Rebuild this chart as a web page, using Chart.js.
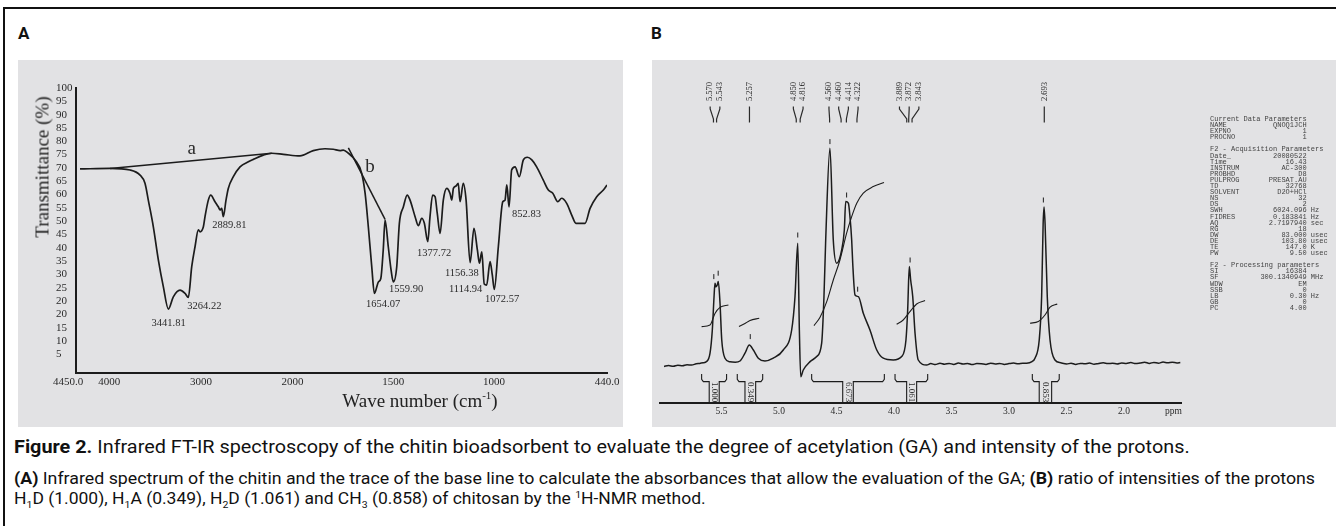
<!DOCTYPE html>
<html>
<head>
<meta charset="utf-8">
<script src="https://cdn.jsdelivr.net/npm/chart.js@4.4.0/dist/chart.umd.min.js"></script>
<style>
  body { margin: 0; width: 1336px; height: 526px; overflow: hidden; position: relative; background: #fff; font-family: Roboto, 'Noto Sans', sans-serif; }
  .frame { position: absolute; left: 3px; top: 7px; width: 1400px; height: 600px; border: 2px solid #111; }
  .tag { position: absolute; top: 23px; font-size: 17px; font-weight: 700; line-height: 20px; color: #111; }
  .panel { position: absolute; top: 60px; height: 367px; background: #e2e2e4; }
  canvas { position: absolute; top: 60px; }
  .serif { position: absolute; font-family: 'Liberation Serif', serif; color: #222; white-space: nowrap; line-height: 1; }
  #params { position: absolute; left: 1210px; top: 116px; margin: 0; font-family: 'Liberation Mono', monospace; font-size: 7px; line-height: 6.1px; color: #444; white-space: pre; }
  .cap { position: absolute; left: 14px; white-space: nowrap; color: #111; line-height: 20px; transform-origin: left center; }
  .cap sub, .cap sup { font-size: 0.6em; line-height: 0; }
</style>
</head>
<body>
<div class="frame"></div>
<div class="tag" style="left:18px">A</div>
<div class="tag" style="left:651px">B</div>

<div class="panel" style="left:18px;width:605px"></div>
<div class="panel" style="left:652px;width:684px"></div>

<canvas id="irChart" width="605" height="367" style="left:18px"></canvas>
<canvas id="nmrChart" width="684" height="367" style="left:652px"></canvas>

<div class="serif" style="left:42px;top:167px;font-size:19px;transform:translate(-50%,-50%) rotate(-90deg)">Transmittance (%)</div>
<div class="serif" style="left:420px;top:400px;font-size:19px;transform:translate(-50%,-50%)">Wave number (cm<sup style="font-size:11px">-1</sup>)</div>

<pre id="params"></pre>

<div class="cap" id="cap1" style="top:437px;font-size:18px"><b>Figure 2.</b> Infrared FT-IR spectroscopy of the chitin bioadsorbent to evaluate the degree of acetylation (GA) and intensity of the protons.</div>
<div class="cap" id="cap2" style="top:469px;font-size:16px"><b>(A)</b> Infrared spectrum of the chitin and the trace of the base line to calculate the absorbances that allow the evaluation of the GA; <b>(B)</b> ratio of intensities of the protons</div>
<div class="cap" id="cap3" style="top:489px;font-size:16px">H<sub>1</sub>D (1.000), H<sub>1</sub>A (0.349), H<sub>2</sub>D (1.061) and CH<sub>3</sub> (0.858) of chitosan by the <sup>1</sup>H-NMR method.</div>

<script>
// ---------- Panel A: FT-IR spectrum (wavenumber cm-1, transmittance %)
const irWave = [4319, 3992, 3773, 3664, 3610, 3574, 3519, 3464, 3410, 3355, 3301, 3228, 3173, 3137, 3100, 3064, 3028, 3009, 2973, 2955,
  2919, 2893, 2846, 2810, 2791, 2773, 2755, 2726, 2701, 2646, 2573, 2482, 2428, 2319, 2227, 2100, 1963, 1897, 1839, 1798,
  1764, 1748, 1723, 1690, 1657, 1640, 1624, 1607, 1594, 1574, 1562, 1550, 1541, 1525, 1511, 1500, 1483, 1470, 1450, 1431,
  1417, 1392, 1376, 1359, 1346, 1329, 1318, 1305, 1293, 1282, 1268, 1252, 1235, 1219, 1210, 1202, 1189, 1178, 1169, 1153,
  1139, 1119, 1100, 1083, 1073, 1061, 1049, 1037, 1020, 1009, 999, 979, 957, 946, 937, 926, 913, 896, 875, 855,
  835, 813, 789, 756, 731, 709, 684, 665, 640, 615, 594, 549, 524, 491, 458, 440];
const irTrans = [69.6, 69.8, 69.2, 67.3, 64.2, 57.9, 47.9, 35.4, 25.4, 17.0, 21.6, 24.1, 22.9, 21.4, 32.9, 40.4, 46.7, 46.0, 47.9, 51.7,
  57.9, 59.8, 57.3, 55.4, 54.2, 54.8, 51.7, 57.9, 62.3, 66.7, 70.4, 72.3, 73.2, 74.8, 75.5, 75.1, 74.5, 76.5, 77.2, 77.0,
  76.5, 76.7, 75.5, 73.0, 68.0, 60.5, 47.9, 32.9, 22.9, 27.2, 28.5, 39.2, 50.4, 40.4, 31.6, 27.2, 32.9, 49.2, 55.4, 59.8,
  57.9, 51.7, 48.3, 51.1, 49.2, 42.3, 51.7, 59.8, 59.2, 52.9, 45.4, 57.9, 62.3, 60.5, 57.9, 62.3, 63.2, 64.2, 57.3, 64.2,
  57.9, 34.4, 47.3, 39.2, 34.2, 38.5, 26.4, 26.0, 34.8, 29.8, 24.4, 40.4, 57.3, 57.9, 63.6, 55.4, 69.2, 70.4, 66.7, 73.0,
  74.0, 73.0, 70.4, 65.4, 61.7, 60.5, 57.3, 58.6, 56.7, 52.3, 49.2, 49.2, 54.8, 59.2, 61.7, 63.6];

// base lines a and b
const baseAWave = [3992, 2227];
const baseATrans = [69.8, 75.5];
const baseBWave = [1723, 1541];
const baseBTrans = [77.5, 50.7];

const irTickValues = [4450, 4000, 3000, 2000, 1500, 1000, 440];
const irTickLabels = ['4450.0', '4000', '3000', '2000', '1500', '1000', '440.0'];
const yTickValues = [100, 95, 90, 85, 80, 75, 70, 65, 60, 55, 50, 45, 40, 35, 30, 25, 20, 15, 10, 5, 0];
const yTickLabels = ['100', '95', '90', '85', '80', '75', '70', '65', '60', '55', '50', '45', '40', '35', '30', '25', '20', '20', '15', '10', '5'];

// peak annotations (text anchored at its left edge)
const irPeakText = ['3441.81', '3264.22', '2889.81', '1654.07', '1559.90', '1377.72', '1156.38', '1114.94', '1072.57', '852.83'];
const irPeakLabelWave = [3539, 3148, 2875, 1635, 1521, 1382, 1244, 1224, 1045, 911];
const irPeakLabelTrans = [11.6, 18.1, 48.3, 18.8, 24.5, 38.0, 30.5, 24.5, 20.8, 52.7];
const irLineNames = ['a', 'b'];
const irLineNameWave = [3100, 1616];
const irLineNameTrans = [77.0, 70.4];

// ---------- Panel B: 1H-NMR spectrum (ppm, intensity)
const nmrPpm = [6.00, 5.96, 5.92, 5.88, 5.84, 5.80, 5.76, 5.72, 5.69, 5.66, 5.63, 5.60, 5.58, 5.565, 5.557, 5.548, 5.537, 5.528, 5.513, 5.498,
  5.47, 5.426, 5.38, 5.339, 5.296, 5.258, 5.223, 5.18, 5.122, 5.05, 4.963, 4.89, 4.861, 4.837, 4.823, 4.811, 4.789, 4.73, 4.672, 4.629,
  4.609, 4.594, 4.557, 4.528, 4.498, 4.455, 4.432, 4.42, 4.397, 4.383, 4.368, 4.359, 4.339, 4.31, 4.267, 4.209, 4.15, 4.093, 4.006, 3.933,
  3.896, 3.881, 3.867, 3.855, 3.837, 3.817, 3.789, 3.716, 3.68, 3.64, 3.60, 3.56, 3.52, 3.48, 3.44, 3.40, 3.36, 3.32, 3.28, 3.24,
  3.20, 3.16, 3.12, 3.08, 3.04, 3.00, 2.96, 2.92, 2.88, 2.846, 2.80, 2.774, 2.737, 2.716, 2.703, 2.695, 2.686, 2.667, 2.643, 2.600,
  2.55, 2.498, 2.46, 2.42, 2.38, 2.34, 2.30, 2.26, 2.22, 2.18, 2.14, 2.10, 2.06, 2.02, 1.98, 1.94, 1.90, 1.86, 1.82, 1.78,
  1.74, 1.70, 1.66, 1.62, 1.58, 1.54, 1.51];
const nmrInt = [-1.2, -0.8, -1.1, -0.6, -0.9, -0.4, -0.5, 0.1, 0.3, 0.6, 1.2, 5.4, 17, 33.6, 40.4, 38.6, 39.5, 41.2, 30.4, 12,
  2.9, 1.1, 0.9, 1.5, 5.4, 9.5, 7, 2.9, 1.5, 2.9, 7, 17, 33.6, 60.4, 17, -6.4, -3, 1.2, 3.7, 10.4,
  33.6, 62, 107.9, 62, 50.4, 57, 67, 81.2, 80.4, 73.7, 62, 50.4, 34.5, 33.7, 25.4, 17, 7, 2.9, 2, 3.7,
  12, 27, 48.7, 42, 33.7, 15.4, 2, -0.5, 0.2, -0.3, 0.4, -0.1, 0.3, -0.2, 0.5, 0.0, 0.3, -0.3, 0.2, 0.1,
  -0.2, 0.4, 0.0, 0.3, -0.2, 0.2, 0.5, 0.1, 0.4, 0.4, 1.2, 2.9, 12, 33.7, 70, 78.5, 70, 33.7, 12, 2,
  0.6, 0.0, 0.4, -0.2, 0.3, 0.1, 0.5, -0.1, 0.3, 0.6, 0.2, 0.4, 0.0, 0.5, 0.3, 0.7, 0.2, 0.5, 0.9, 0.3,
  0.8, 0.4, 1.0, 0.6, 0.9, 0.5, 0.8];

const nmrPeakList = [5.570, 5.543, 5.257, 4.850, 4.816, 4.560, 4.460, 4.414, 4.322, 3.889, 3.872, 3.843, 2.693];
const nmrMarkPpm = [5.567, 5.529, 5.250, 4.837, 4.557, 4.412, 4.316, 3.860, 2.701];
const nmrMarkInt = [43.7, 45.4, 13.7, 64.5, 111.2, 84.5, 37.4, 52, 82];

// integral curves
const integralPpm = [
  [5.673, 5.600, 5.557, 5.513, 5.440],
  [5.348, 5.296, 5.252, 5.172],
  [4.696, 4.643, 4.585, 4.528, 4.470, 4.412, 4.368, 4.324, 4.267, 4.180, 4.087],
  [3.977, 3.920, 3.861, 3.803, 3.730],
  [2.817, 2.745, 2.687, 2.643, 2.580]
];
const integralVal = [
  [18.7, 19.5, 25.3, 28.3, 29.5],
  [18.7, 20.3, 21.7, 22.9],
  [19.2, 23.4, 31.2, 42, 52, 65.4, 73.7, 80.4, 85.4, 88.7, 90.7],
  [19.9, 22, 26.2, 30, 31.7],
  [20.4, 21.2, 24.5, 28.4, 30]
];

// integration ranges and values
const intOuterLeft = [5.673, 5.363, 4.716, 3.991, 2.797];
const intInnerLeft = [5.607, 5.296, 4.446, 3.890, 2.737];
const intInnerRight = [5.520, 5.203, 4.354, 3.803, 2.629];
const intOuterRight = [5.456, 5.142, 4.084, 3.707, 2.563];
const intValues = ['1.000', '0.349', '6.673', '1.061', '0.853'];

const nmrTickValues = [5.5, 5.0, 4.5, 4.0, 3.5, 3.0, 2.5, 2.0, 1.57];
const nmrTickLabels = ['5.5', '5.0', '4.5', '4.0', '3.5', '3.0', '2.5', '2.0', 'ppm'];

// acquisition parameter listing
const paramRows = [
  ['Current Data Parameters'], ['NAME', 'QNOQ1JCH'], ['EXPNO', '1'], ['PROCNO', '1'], [''],
  ['F2 - Acquisition Parameters'], ['Date_', '20080522'], ['Time', '16.43'], ['INSTRUM', 'AC-300'], ['PROBHD', 'D8'],
  ['PULPROG', 'PRESAT.AU'], ['TD', '32768'], ['SOLVENT', 'D2O+HCl'], ['NS', '32'], ['DS', '2'],
  ['SWH', '6024.096', 'Hz'], ['FIDRES', '0.183841', 'Hz'], ['AQ', '2.7197940', 'sec'], ['RG', '18'],
  ['DW', '83.000', 'usec'], ['DE', '103.80', 'usec'], ['TE', '147.0', 'K'], ['PW', '9.50', 'usec'], [''],
  ['F2 - Processing parameters'], ['SI', '16384'], ['SF', '300.1340949', 'MHz'], ['WDW', 'EM'], ['SSB', '0'],
  ['LB', '0.30', 'Hz'], ['GB', '0'], ['PC', '4.00']
];

document.getElementById('params').textContent = paramRows.map(r => {
  if (r.length === 1) return r[0];
  const left = r[0];
  const val = r[1];
  let line = left + ' '.repeat(Math.max(1, 23 - left.length - val.length)) + val;
  if (r[2]) line += ' ' + r[2];
  return line;
}).join('\n');

// caption lines fitted to the width of the original
[['cap1', 1176], ['cap2', 1301], ['cap3', 692]].forEach(([id, w]) => {
  const el = document.getElementById(id);
  el.style.transform = `scaleX(${w / el.scrollWidth})`;
});

const pts = (xs, ys) => xs.map((x, i) => ({ x, y: ys[i] }));
const INK = '#1c1c1c';
const serif = size => ({ family: 'Liberation Serif', size });

// wavenumber axis expanded below 2000 cm-1 like the spectrometer output
class SplitScale extends Chart.LinearScale {
  static id = 'split';
  static defaults = {};
  warp(v) {
    const b = 2000, f = 2.2;
    return v >= b ? v - b : (v - b) * f;
  }
  getPixelForValue(value) {
    if (value === null || value === undefined) return NaN;
    const a = this.warp(this.min), b = this.warp(this.max);
    return this.getPixelForDecimal((this.warp(value) - a) / (b - a));
  }
  getValueForPixel(pixel) {
    const a = this.warp(this.min), b = this.warp(this.max);
    const u = a + this.getDecimalForPixel(pixel) * (b - a);
    return u >= 0 ? u + 2000 : u / 2.2 + 2000;
  }
}
Chart.register(SplitScale);

const irLabelPlugin = {
  id: 'irLabels',
  afterDatasetsDraw(chart) {
    const { ctx, scales: { x, y } } = chart;
    ctx.save();
    ctx.fillStyle = '#2a2a2a';
    ctx.textBaseline = 'middle';
    ctx.textAlign = 'left';
    ctx.font = '10.5px "Liberation Serif"';
    irPeakText.forEach((t, i) => {
      ctx.fillText(t, x.getPixelForValue(irPeakLabelWave[i]), y.getPixelForValue(irPeakLabelTrans[i]));
    });
    ctx.textAlign = 'center';
    ctx.font = '19px "Liberation Serif"';
    irLineNames.forEach((t, i) => {
      ctx.fillText(t, x.getPixelForValue(irLineNameWave[i]), y.getPixelForValue(irLineNameTrans[i]));
    });
    ctx.restore();
  }
};

new Chart(document.getElementById('irChart'), {
  type: 'line',
  data: {
    datasets: [
      { data: pts(irWave, irTrans), borderColor: INK, borderWidth: 1.7, pointRadius: 0, cubicInterpolationMode: 'monotone' },
      { data: pts(baseAWave, baseATrans), borderColor: INK, borderWidth: 1.5, pointRadius: 0 },
      { data: pts(baseBWave, baseBTrans), borderColor: INK, borderWidth: 1.5, pointRadius: 0 }
    ]
  },
  options: {
    responsive: false,
    animation: false,
    devicePixelRatio: 1,
    events: [],
    layout: { padding: { left: 38, right: 16, top: 28, bottom: 0 } },
    plugins: { legend: { display: false }, tooltip: { enabled: false } },
    scales: {
      x: {
        type: 'split',
        min: 440,
        max: 4363,
        reverse: true,
        grid: { display: false, drawTicks: false },
        border: { color: INK, width: 2 },
        afterBuildTicks: s => { s.ticks = irTickValues.map(v => ({ value: v })); },
        afterFit: s => { s.height = 54; s.paddingLeft = 0; s.paddingRight = 0; },
        ticks: { autoSkip: false, maxRotation: 0, padding: 3, color: '#2a2a2a', font: serif(11), callback: (v, i) => irTickLabels[i] }
      },
      y: {
        min: -7,
        max: 100,
        grid: { display: false, drawTicks: false },
        border: { color: INK, width: 2 },
        afterBuildTicks: s => { s.ticks = yTickValues.map(v => ({ value: v })); },
        afterFit: s => { s.width = 20; s.paddingTop = 0; s.paddingBottom = 0; },
        ticks: { autoSkip: false, crossAlign: 'far', padding: 2, color: '#2a2a2a', font: serif(11), callback: (v, i) => yTickLabels[i] }
      }
    }
  },
  plugins: [irLabelPlugin]
});

// spread the peak labels so they do not overlap
function spreadLabels(pos, gap) {
  let groups = pos.map(p => ({ items: [p], start: p }));
  let merged = true;
  while (merged) {
    merged = false;
    for (let i = 0; i < groups.length - 1; i++) {
      const a = groups[i], b = groups[i + 1];
      const aEnd = a.start + (a.items.length - 1) * gap;
      if (b.start - aEnd < gap) {
        const items = a.items.concat(b.items);
        const mean = items.reduce((s, v) => s + v, 0) / items.length;
        groups.splice(i, 2, { items, start: mean - (items.length - 1) * gap / 2 });
        merged = true;
        break;
      }
    }
  }
  return groups.flatMap(g => g.items.map((_, k) => g.start + k * gap));
}

const nmrTextPlugin = {
  id: 'nmrText',
  afterDatasetsDraw(chart) {
    const { ctx, scales: { x, y } } = chart;
    ctx.save();
    ctx.fillStyle = '#2a2a2a';
    ctx.strokeStyle = '#2a2a2a';
    ctx.lineWidth = 1.2;

    // peak list on top
    const peakX = nmrPeakList.map(p => x.getPixelForValue(p));
    const labelX = spreadLabels(peakX, 9.7);
    ctx.font = '8.5px "Liberation Serif"';
    ctx.textBaseline = 'middle';
    ctx.textAlign = 'left';
    nmrPeakList.forEach((p, i) => {
      ctx.save();
      ctx.translate(labelX[i], 41);
      ctx.rotate(-Math.PI / 2);
      ctx.fillText(p.toFixed(3), 0, 0);
      ctx.restore();
      ctx.beginPath();
      ctx.moveTo(labelX[i], 46.5);
      ctx.lineTo(labelX[i], 49);
      ctx.lineTo(peakX[i], 59);
      ctx.lineTo(peakX[i], 62.5);
      ctx.stroke();
    });

    // integral values inside the brackets
    ctx.font = '9px "Liberation Serif"';
    ctx.textAlign = 'center';
    intValues.forEach((t, i) => {
      const cx = (x.getPixelForValue(intInnerLeft[i]) + x.getPixelForValue(intInnerRight[i])) / 2;
      ctx.save();
      ctx.translate(cx, y.getPixelForValue(-14));
      ctx.rotate(Math.PI / 2);
      ctx.fillText(t, 0, 0);
      ctx.restore();
    });
    ctx.restore();
  }
};

const integralSets = integralPpm.map((xs, i) => ({
  data: pts(xs, integralVal[i]), borderColor: INK, borderWidth: 1.1, pointRadius: 0, cubicInterpolationMode: 'monotone'
}));

// integration brackets under the baseline
const bracketSets = intValues.map((_, i) => {
  const d = 0.015;
  return {
    data: [
      { x: intOuterLeft[i], y: -5 }, { x: intOuterLeft[i], y: -7.6 }, { x: intOuterLeft[i] - d, y: -8.8 },
      { x: intInnerLeft[i], y: -8.8 }, { x: intInnerLeft[i], y: -19.5 }, { x: (intInnerLeft[i] + intInnerRight[i]) / 2, y: null },
      { x: intInnerRight[i], y: -19.5 }, { x: intInnerRight[i], y: -8.8 }, { x: intOuterRight[i] + d, y: -8.8 },
      { x: intOuterRight[i], y: -7.6 }, { x: intOuterRight[i], y: -5 }
    ],
    borderColor: INK, borderWidth: 1.1, pointRadius: 0, spanGaps: false
  };
});

new Chart(document.getElementById('nmrChart'), {
  type: 'line',
  data: {
    datasets: [
      { data: pts(nmrPpm, nmrInt), borderColor: INK, borderWidth: 1.5, pointRadius: 0, cubicInterpolationMode: 'monotone' },
      ...integralSets,
      ...bracketSets,
      { data: pts(nmrMarkPpm, nmrMarkInt), showLine: false, pointStyle: 'line', rotation: 90, pointRadius: 2.5, borderColor: INK, borderWidth: 1 }
    ]
  },
  options: {
    responsive: false,
    animation: false,
    devicePixelRatio: 1,
    events: [],
    layout: { padding: { left: 8, right: 155, top: 40, bottom: 0 } },
    plugins: { legend: { display: false }, tooltip: { enabled: false } },
    scales: {
      x: {
        type: 'linear',
        min: 1.504,
        max: 6.035,
        reverse: true,
        grid: { display: false, drawTicks: false },
        border: { color: INK, width: 2 },
        afterBuildTicks: s => { s.ticks = nmrTickValues.map(v => ({ value: v })); },
        afterFit: s => { s.height = 24; s.paddingLeft = 0; s.paddingRight = 0; },
        ticks: { autoSkip: false, maxRotation: 0, padding: 3, color: '#2a2a2a', font: serif(9.5), callback: (v, i) => nmrTickLabels[i] }
      },
      y: { display: false, min: -19.5, max: 132 }
    }
  },
  plugins: [nmrTextPlugin]
});
</script>
</body>
</html>
